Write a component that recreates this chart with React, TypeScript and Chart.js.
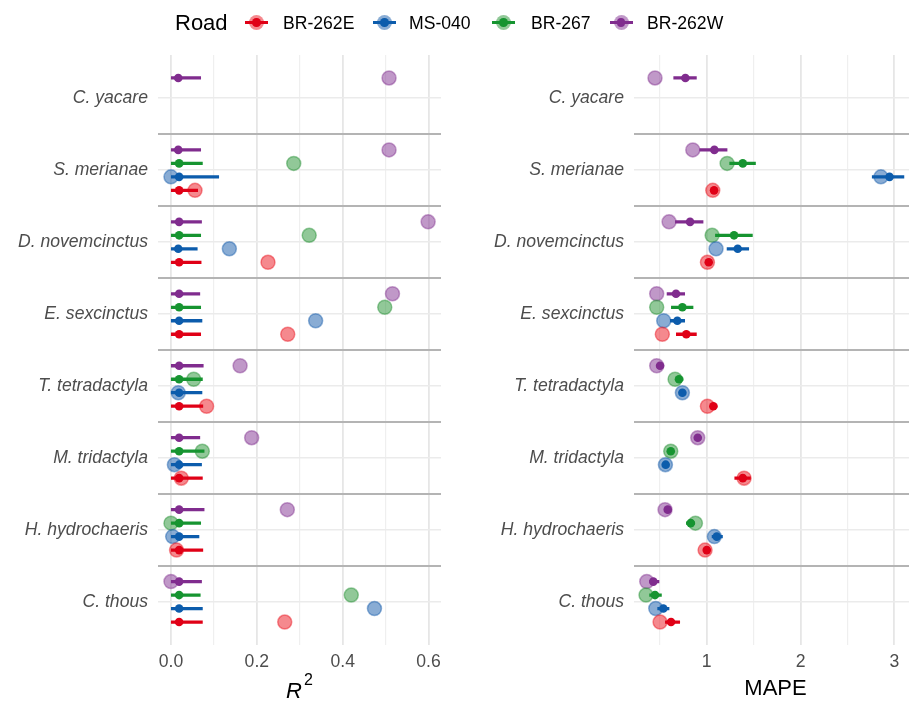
import React, { useEffect, useRef } from 'react';
import { Chart, registerables } from 'chart.js';

Chart.register(...registerables);

const FONT = '"Liberation Sans", Arial, Helvetica, sans-serif';

// ---------- categories ----------
const species = [
  'C. yacare',
  'S. merianae',
  'D. novemcinctus',
  'E. sexcinctus',
  'T. tetradactyla',
  'M. tridactyla',
  'H. hydrochaeris',
  'C. thous',
];
const roads = ['BR-262E', 'MS-040', 'BR-267', 'BR-262W'];

// ---------- R² : observed (large circles) ----------
const r2ObsBR262E = [null, 0.056, 0.226, 0.272, 0.083, 0.024, 0.013, 0.265];
const r2ObsMS040 = [null, 0.0, 0.136, 0.337, 0.017, 0.008, 0.004, 0.474];
const r2ObsBR267 = [null, 0.286, 0.322, 0.498, 0.053, 0.073, 0.0, 0.42];
const r2ObsBR262W = [0.508, 0.508, 0.599, 0.516, 0.161, 0.188, 0.271, 0.0];

// ---------- R² : point estimate with interval ----------
const r2MidBR262E = [null, 0.019, 0.019, 0.019, 0.019, 0.019, 0.019, 0.019];
const r2MidMS040 = [null, 0.019, 0.017, 0.019, 0.019, 0.019, 0.019, 0.019];
const r2MidBR267 = [null, 0.019, 0.019, 0.019, 0.019, 0.019, 0.019, 0.019];
const r2MidBR262W = [0.017, 0.017, 0.019, 0.019, 0.019, 0.019, 0.019, 0.019];

const r2LoBR262E = [null, 0, 0, 0, 0, 0, 0, 0];
const r2LoMS040 = [null, 0, 0, 0, 0, 0, 0, 0];
const r2LoBR267 = [null, 0, 0, 0, 0, 0, 0, 0];
const r2LoBR262W = [0, 0, 0, 0, 0, 0, 0, 0];

const r2HiBR262E = [null, 0.063, 0.071, 0.07, 0.075, 0.074, 0.075, 0.074];
const r2HiMS040 = [null, 0.112, 0.062, 0.073, 0.073, 0.072, 0.066, 0.074];
const r2HiBR267 = [null, 0.074, 0.07, 0.07, 0.074, 0.078, 0.07, 0.069];
const r2HiBR262W = [0.07, 0.07, 0.072, 0.068, 0.076, 0.068, 0.078, 0.072];

// ---------- MAPE : observed (large circles) ----------
const mapeObsBR262E = [null, 1.064, 1.007, 0.526, 1.007, 1.398, 0.982, 0.502];
const mapeObsMS040 = [null, 2.857, 1.099, 0.541, 0.74, 0.559, 1.081, 0.456];
const mapeObsBR267 = [null, 1.217, 1.057, 0.466, 0.662, 0.616, 0.879, 0.352];
const mapeObsBR262W = [0.448, 0.851, 0.598, 0.466, 0.466, 0.904, 0.555, 0.36];

// ---------- MAPE : point estimate with interval ----------
const mapeMidBR262E = [null, 1.078, 1.021, 0.782, 1.07, 1.384, 1.0, 0.619];
const mapeMidMS040 = [null, 2.949, 1.33, 0.686, 0.74, 0.562, 1.107, 0.537];
const mapeMidBR267 = [null, 1.384, 1.291, 0.74, 0.704, 0.616, 0.829, 0.448];
const mapeMidBR262W = [0.772, 1.081, 0.822, 0.672, 0.502, 0.904, 0.584, 0.43];

const mapeLoBR262E = [null, 1.04, 0.99, 0.672, 1.035, 1.295, 0.98, 0.555];
const mapeLoMS040 = [null, 2.761, 1.213, 0.608, 0.72, 0.54, 1.053, 0.473];
const mapeLoBR267 = [null, 1.241, 1.089, 0.619, 0.662, 0.6, 0.779, 0.387];
const mapeLoBR262W = [0.644, 0.921, 0.662, 0.573, 0.49, 0.89, 0.57, 0.387];

const mapeHiBR262E = [null, 1.11, 1.05, 0.893, 1.113, 1.469, 1.02, 0.715];
const mapeHiMS040 = [null, 3.106, 1.451, 0.768, 0.76, 0.58, 1.171, 0.601];
const mapeHiBR267 = [null, 1.523, 1.49, 0.857, 0.75, 0.64, 0.875, 0.52];
const mapeHiBR262W = [0.893, 1.22, 0.964, 0.768, 0.52, 0.92, 0.6, 0.494];

// ---------- axis ticks ----------
const r2Ticks = [0, 0.1, 0.2, 0.3, 0.4, 0.5, 0.6];
const r2TickLabels = ['0.0', '', '0.2', '', '0.4', '', '0.6'];
const mapeTicks = [0.5, 1, 1.5, 2, 2.5, 3];
const mapeTickLabels = ['', '1', '', '2', '', '3'];

// ---------- styles ----------
const roadColors = ['rgb(224,0,22)', 'rgb(12,92,172)', 'rgb(22,148,48)', 'rgb(128,44,142)'];
const roadFills = ['rgba(236,20,30,0.5)', 'rgba(20,90,170,0.5)', 'rgba(35,145,50,0.5)', 'rgba(130,50,145,0.5)'];
const roadEdges = ['rgba(236,20,30,0.45)', 'rgba(20,90,170,0.45)', 'rgba(35,145,50,0.45)', 'rgba(130,50,145,0.45)'];
const dodge = [0.28125, 0.09375, -0.09375, -0.28125];

type Num = number | null;

function buildDatasets(obs: Num[][], mid: Num[][], lo: Num[][], hi: Num[][]) {
  const ds: any[] = [];
  roads.forEach((road, r) => {
    const pos = (i: number) => i + dodge[r];
    const circles: any[] = [];
    const dots: any[] = [];
    const segs: any[] = [];
    species.forEach((_, i) => {
      const o = obs[r][i];
      const m = mid[r][i];
      const l = lo[r][i];
      const h = hi[r][i];
      if (o != null) circles.push({ x: o, y: pos(i) });
      if (m != null) dots.push({ x: m, y: pos(i) });
      if (l != null && h != null) {
        segs.push({ x: l, y: pos(i) }, { x: h, y: pos(i) }, { x: h, y: null });
      }
    });
    ds.push({
      type: 'scatter',
      label: road + ' observed',
      data: circles,
      pointRadius: 7,
      pointHoverRadius: 7,
      pointBorderWidth: 1.5,
      borderWidth: 1.5,
      backgroundColor: roadFills[r],
      borderColor: roadEdges[r],
      order: 30 + r,
    });
    ds.push({
      type: 'line',
      label: road + ' interval',
      data: segs,
      borderColor: roadColors[r],
      backgroundColor: roadColors[r],
      borderWidth: 3.3,
      pointRadius: 0,
      pointHoverRadius: 0,
      showLine: true,
      spanGaps: false,
      fill: false,
      tension: 0,
      borderCapStyle: 'butt',
      order: 20 + r,
    });
    ds.push({
      type: 'scatter',
      label: road + ' estimate',
      data: dots,
      pointRadius: 4.3,
      pointHoverRadius: 4.3,
      borderWidth: 0,
      pointBorderWidth: 0,
      backgroundColor: roadColors[r],
      borderColor: roadColors[r],
      order: 10 + r,
    });
  });
  return ds;
}

const yTickValues = [0, 0.5, 1, 1.5, 2, 2.5, 3, 3.5, 4, 4.5, 5, 5.5, 6, 6.5, 7];

function makeOptions(
  xMin: number,
  xMax: number,
  xTicks: number[],
  xLabels: string[],
  yWidth: number,
  padRight: number,
  title: any
) {
  return {
    animation: false,
    responsive: false,
    maintainAspectRatio: false,
    events: [],
    layout: { padding: { top: 55, right: padRight, bottom: 0, left: 0 } },
    plugins: { legend: { display: false }, tooltip: { enabled: false }, title: { display: false } },
    scales: {
      x: {
        type: 'linear',
        min: xMin,
        max: xMax,
        afterBuildTicks: (s: any) => {
          s.ticks = xTicks.map((v) => ({ value: v }));
        },
        afterFit: (s: any) => {
          s.height = 58;
        },
        ticks: {
          autoSkip: false,
          maxRotation: 0,
          padding: 7,
          color: '#4d4d4d',
          font: { family: FONT, size: 17.6 },
          callback: (_v: any, idx: number) => xLabels[idx],
        },
        grid: {
          drawTicks: false,
          color: (ctx: any) => (ctx.index != null && xLabels[ctx.index] !== '' ? '#e6e6e6' : '#efefef'),
          lineWidth: (ctx: any) => (ctx.index != null && xLabels[ctx.index] !== '' ? 1.8 : 1.2),
        },
        border: { display: false },
        title,
      },
      y: {
        type: 'linear',
        reverse: true,
        min: -0.6,
        max: 7.6,
        afterBuildTicks: (s: any) => {
          s.ticks = yTickValues.map((v) => ({ value: v }));
        },
        afterFit: (s: any) => {
          s.width = yWidth;
        },
        ticks: {
          autoSkip: false,
          padding: 10,
          color: '#4d4d4d',
          font: { family: FONT, size: 17.6, style: 'italic' },
          callback: (v: any) => (Number.isInteger(v) ? species[v] : ''),
        },
        grid: {
          drawTicks: false,
          color: (ctx: any) =>
            ctx.tick && !Number.isInteger(ctx.tick.value) ? '#b4b4b4' : '#ebebeb',
          lineWidth: (ctx: any) => (ctx.tick && !Number.isInteger(ctx.tick.value) ? 1.9 : 1.6),
        },
        border: { display: false },
      },
    },
  };
}

const r2TitlePlugin = {
  id: 'r2Title',
  afterDraw(chart: any) {
    const { ctx, chartArea } = chart;
    ctx.save();
    ctx.fillStyle = '#000';
    ctx.textBaseline = 'alphabetic';
    ctx.textAlign = 'left';
    ctx.font = `italic 22px ${FONT}`;
    const wR = ctx.measureText('R').width;
    ctx.font = `16px ${FONT}`;
    const w2 = ctx.measureText('2').width;
    const total = wR + 2 + w2;
    const x0 = (chartArea.left + chartArea.right) / 2 - total / 2;
    ctx.font = `italic 22px ${FONT}`;
    ctx.fillText('R', x0, 698);
    ctx.font = `16px ${FONT}`;
    ctx.fillText('2', x0 + wR + 2, 685);
    ctx.restore();
  },
};

const legendGlyphX = [256.5, 384.5, 503.5, 621];
const legendTextX = [283, 409, 531, 647];

function Legend() {
  const cy = 22.6;
  return (
    <>
      <div
        style={{
          position: 'absolute',
          left: 175,
          top: cy - 13.5,
          font: `22px ${FONT}`,
          lineHeight: '27px',
          color: '#000',
          whiteSpace: 'nowrap',
        }}
      >
        Road
      </div>
      {roads.map((road, r) => (
        <React.Fragment key={road}>
          <div
            style={{
              position: 'absolute',
              left: legendGlyphX[r] - 7.5,
              top: cy - 7.5,
              width: 15,
              height: 15,
              borderRadius: '50%',
              background: roadFills[r],
            }}
          />
          <div
            style={{
              position: 'absolute',
              left: legendGlyphX[r] - 11.5,
              top: cy - 1.65,
              width: 23,
              height: 3.3,
              background: roadColors[r],
            }}
          />
          <div
            style={{
              position: 'absolute',
              left: legendGlyphX[r] - 4.3,
              top: cy - 4.3,
              width: 8.6,
              height: 8.6,
              borderRadius: '50%',
              background: roadColors[r],
            }}
          />
          <div
            style={{
              position: 'absolute',
              left: legendTextX[r],
              top: cy - 11,
              font: `17.6px ${FONT}`,
              lineHeight: '22px',
              color: '#000',
              whiteSpace: 'nowrap',
            }}
          >
            {road}
          </div>
        </React.Fragment>
      ))}
    </>
  );
}

export default function App() {
  const leftRef = useRef<HTMLCanvasElement | null>(null);
  const rightRef = useRef<HTMLCanvasElement | null>(null);

  useEffect(() => {
    const r2Obs = [r2ObsBR262E, r2ObsMS040, r2ObsBR267, r2ObsBR262W];
    const r2Mid = [r2MidBR262E, r2MidMS040, r2MidBR267, r2MidBR262W];
    const r2Lo = [r2LoBR262E, r2LoMS040, r2LoBR267, r2LoBR262W];
    const r2Hi = [r2HiBR262E, r2HiMS040, r2HiBR267, r2HiBR262W];
    const mObs = [mapeObsBR262E, mapeObsMS040, mapeObsBR267, mapeObsBR262W];
    const mMid = [mapeMidBR262E, mapeMidMS040, mapeMidBR267, mapeMidBR262W];
    const mLo = [mapeLoBR262E, mapeLoMS040, mapeLoBR267, mapeLoBR262W];
    const mHi = [mapeHiBR262E, mapeHiMS040, mapeHiBR267, mapeHiBR262W];

    const left = new Chart(leftRef.current as HTMLCanvasElement, {
      type: 'scatter',
      data: { datasets: buildDatasets(r2Obs, r2Mid, r2Lo, r2Hi) },
      options: makeOptions(-0.0302, 0.629, r2Ticks, r2TickLabels, 158, 14, { display: false }) as any,
      plugins: [r2TitlePlugin],
    } as any);

    const right = new Chart(rightRef.current as HTMLCanvasElement, {
      type: 'scatter',
      data: { datasets: buildDatasets(mObs, mMid, mLo, mHi) },
      options: makeOptions(0.224, 3.242, mapeTicks, mapeTickLabels, 179, 20, {
        display: true,
        text: 'MAPE',
        color: '#000',
        font: { family: FONT, size: 22 },
        padding: { top: 0, bottom: 1 },
      }) as any,
    } as any);

    return () => {
      left.destroy();
      right.destroy();
    };
  }, []);

  return (
    <div
      style={{
        position: 'absolute',
        left: 0,
        top: 0,
        width: 909,
        height: 703,
        overflow: 'hidden',
        background: '#fff',
      }}
    >
      <canvas
        ref={leftRef}
        width={455}
        height={703}
        style={{ position: 'absolute', left: 0, top: 0, width: 455, height: 703 }}
      />
      <canvas
        ref={rightRef}
        width={482}
        height={703}
        style={{ position: 'absolute', left: 455, top: 0, width: 482, height: 703 }}
      />
      <Legend />
    </div>
  );
}
